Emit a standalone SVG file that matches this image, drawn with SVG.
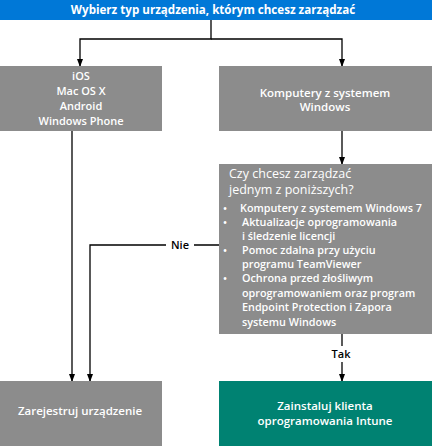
<svg xmlns="http://www.w3.org/2000/svg" width="432" height="446" viewBox="0 0 432 446">
<defs>
<marker id="arr" markerWidth="8" markerHeight="6" refX="7" refY="3" orient="auto" markerUnits="userSpaceOnUse">
<path d="M0,0 L8,3 L0,6 Z" fill="#000"/>
</marker>
<style>
text{font-family:"Open Sans","Noto Sans","DejaVu Sans",sans-serif;fill:#fff}
.b{font-weight:600;font-size:11px}
.c{text-anchor:middle}
.gray{fill:#8c8c8c}
.ln{stroke:#000;stroke-width:1.3;fill:none}
.lbl{fill:#000;font-weight:600;font-size:11px;text-anchor:middle}
.q{font-size:12.5px}
.li{font-size:10.8px;font-weight:600}
.m{font-size:11.5px;font-weight:600}
</style>
</defs>
<rect width="432" height="446" fill="#fff"/>
<g id="connectors">
<path class="ln" d="M211,20 V39 H80 V66" marker-end="url(#arr)"/>
<path class="ln" d="M211,39 H342 V66" marker-end="url(#arr)"/>
<path class="ln" d="M342,131 V164" marker-end="url(#arr)"/>
<path class="ln" d="M72,131 V381" marker-end="url(#arr)"/>
<path class="ln" d="M219,245 H194 M166,245 H90 V381" marker-end="url(#arr)"/>
<text class="lbl" x="180" y="249">Nie</text>
<path class="ln" d="M342,334 V346"/>
<path class="ln" d="M342,362 V381" marker-end="url(#arr)"/>
<text class="lbl" x="341" y="358">Tak</text>
</g>
<g id="start">
<rect x="0" y="0" width="432" height="20" fill="#0078d7"/>
<text class="c" x="213" y="14" style="font-weight:700;font-size:11.6px">Wybierz typ urządzenia, którym chcesz zarządzać</text>
</g>
<g id="mobile">
<rect class="gray" x="0" y="66" width="162" height="65"/>
<text class="b c" x="81" y="80">iOS</text>
<text class="b c" x="81" y="95">Mac OS X</text>
<text class="b c" x="81" y="110">Android</text>
<text class="b c" x="81" y="125">Windows Phone</text>
</g>
<g id="windows">
<rect class="gray" x="219" y="66" width="213" height="65"/>
<text class="m c" x="325" y="97">Komputery z systemem</text>
<text class="m c" x="325" y="111">Windows</text>
</g>
<g id="decision">
<rect class="gray" x="219" y="164" width="213" height="170"/>
<text class="q" x="229" y="178">Czy chcesz zarządzać</text>
<text class="q" x="229" y="194">jednym z poniższych?</text>
<g class="li">
<text x="223" y="212">•</text><text x="240" y="212">Komputery z systemem Windows 7</text>
<text x="223" y="226">•</text><text x="242" y="226">Aktualizacje oprogramowania</text>
<text x="242" y="240">i śledzenie licencji</text>
<text x="223" y="254">•</text><text x="242" y="254">Pomoc zdalna przy użyciu</text>
<text x="242" y="268">programu TeamViewer</text>
<text x="223" y="282">•</text><text x="242" y="282">Ochrona przed złośliwym</text>
<text x="242" y="297">oprogramowaniem oraz program</text>
<text x="242" y="311">Endpoint Protection i Zapora</text>
<text x="242" y="326">systemu Windows</text>
</g>
</g>
<g id="enroll">
<rect class="gray" x="0" y="381" width="162" height="65"/>
<text class="m c" x="80" y="415">Zarejestruj urządzenie</text>
</g>
<g id="install">
<rect x="219" y="381" width="213" height="65" fill="#008272"/>
<text class="m c" x="325" y="410">Zainstaluj klienta</text>
<text class="m c" x="325" y="425">oprogramowania Intune</text>
</g>
</svg>
